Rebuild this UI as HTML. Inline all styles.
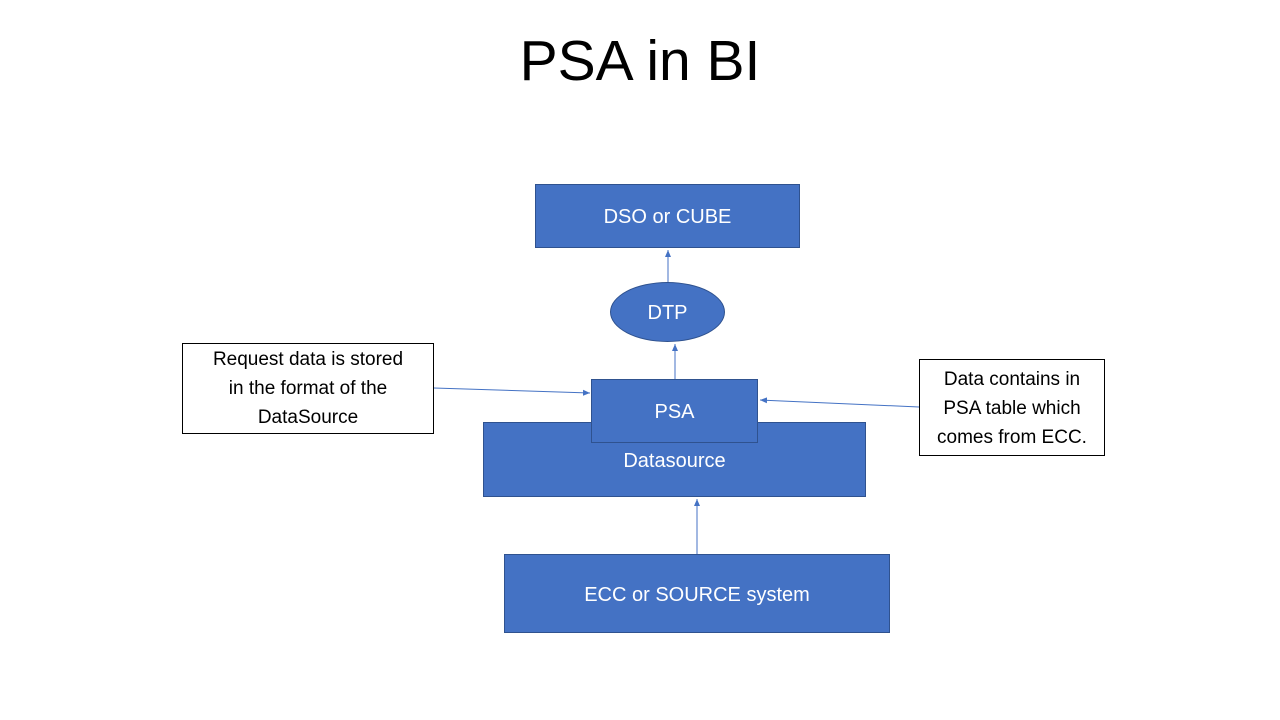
<!DOCTYPE html>
<html><head><meta charset="utf-8"><style>
body{margin:0;width:1280px;height:720px;background:#fff;position:relative;overflow:hidden;font-family:"Liberation Sans",sans-serif}
.b{position:absolute;background:#4472c4;border:1px solid #2f528f;color:#fff;display:flex;align-items:center;justify-content:center;font-size:20px;box-sizing:border-box;padding-top:3px}
.n{position:absolute;background:#fff;border:1px solid #000;color:#000;text-align:center;font-size:19px;line-height:29px;box-sizing:border-box}
</style></head><body>
<div style="position:absolute;left:0;width:1280px;top:28px;text-align:center;font-size:57px;color:#000">PSA in BI</div>
<div class="b" style="left:535px;top:184px;width:265px;height:64px">DSO or CUBE</div>
<div class="b" style="left:610px;top:282px;width:115px;height:60px;border-radius:50%">DTP</div>
<div class="b" style="left:483px;top:422px;width:383px;height:75px;padding-top:4px">Datasource</div>
<div class="b" style="left:591px;top:379px;width:167px;height:64px">PSA</div>
<div class="b" style="left:504px;top:554px;width:386px;height:79px">ECC or SOURCE system</div>
<div class="n" style="left:182px;top:343px;width:252px;height:91px;padding-top:1px">Request data is stored<br>in the format of the<br>DataSource</div>
<div class="n" style="left:919px;top:359px;width:186px;height:97px;padding-top:5px">Data contains in<br>PSA table which<br>comes from ECC.</div>
<svg width="1280" height="720" style="position:absolute;left:0;top:0">
<defs><marker id="a" markerWidth="8" markerHeight="8" refX="7" refY="4" orient="auto"><path d="M0,1 L7,4 L0,7z" fill="#4472c4"/></marker></defs>
<g stroke="#4472c4" stroke-width="1" fill="none" marker-end="url(#a)">
<line x1="668" y1="282" x2="668" y2="250"/>
<line x1="675" y1="379" x2="675" y2="344"/>
<line x1="697" y1="554" x2="697" y2="499"/>
<line x1="434" y1="388" x2="590" y2="393"/>
<line x1="919" y1="407" x2="760" y2="400"/>
</g></svg>
</body></html>
